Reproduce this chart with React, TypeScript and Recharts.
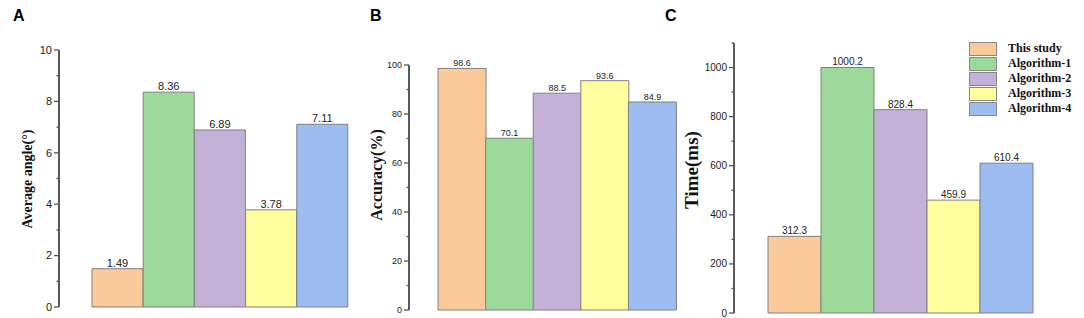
import { BarChart, Bar, XAxis, YAxis, Cell, LabelList } from "recharts";

const methods = ["This study", "Algorithm-1", "Algorithm-2", "Algorithm-3", "Algorithm-4"];
const colors = ["#fbca9a", "#9ed99c", "#c3b1d7", "#fffd9e", "#9dbcf1"];

const angleValues = [1.49, 8.36, 6.89, 3.78, 7.11];
const accuracyValues = [98.6, 70.1, 88.5, 93.6, 84.9];
const timeValues = [312.3, 1000.2, 828.4, 459.9, 610.4];

const angleTicks = [0, 1, 2, 3, 4, 5, 6, 7, 8, 9, 10];
const accuracyTicks = [0, 10, 20, 30, 40, 50, 60, 70, 80, 90, 100];
const timeTicks = [0, 100, 200, 300, 400, 500, 600, 700, 800, 900, 1000, 1100];

const SANS = "Arial, 'Liberation Sans', sans-serif";
const SERIF = "'Times New Roman', 'Liberation Serif', serif";

function axisTick(major: number, fontSize: number) {
  // eslint-disable-next-line @typescript-eslint/no-explicit-any
  return (props: any) => {
    const { x, y, payload } = props;
    const v = payload.value as number;
    const isMajor = Math.abs(v / major - Math.round(v / major)) < 1e-9;
    return (
      <g>
        <line x1={x} x2={x - (isMajor ? 5 : 2.5)} y1={y} y2={y} stroke="#555" strokeWidth={1.3} />
        {isMajor && (
          <text x={x - 7} y={y} dy="0.35em" textAnchor="end" fontSize={fontSize} fill="#1a1a1a" fontFamily={SANS}>
            {v}
          </text>
        )}
      </g>
    );
  };
}

interface PanelProps {
  values: number[];
  ticks: number[];
  major: number;
  left: number;
  width: number;
  axisW: number;
  padLeft: number;
  top: number;
  bottom: number;
  right: number;
  tickFont: number;
  valueFont: number;
}

function Panel(p: PanelProps) {
  const data = methods.map((m, i) => ({ name: m, value: p.values[i] }));
  return (
    <div style={{ position: "absolute", left: p.left, top: 0 }}>
      <BarChart
        width={p.width}
        height={318}
        data={data}
        barCategoryGap={0}
        margin={{ top: p.top, right: p.right, bottom: p.bottom, left: 0 }}
      >
        <XAxis dataKey="name" hide padding={{ left: p.padLeft, right: 0 }} />
        <YAxis
          width={p.axisW}
          domain={[p.ticks[0], p.ticks[p.ticks.length - 1]]}
          ticks={p.ticks}
          interval={0}
          tickSize={0}
          tickMargin={0}
          tickLine={false}
          axisLine={{ stroke: "#5a5a5a", strokeWidth: 2 }}
          tick={axisTick(p.major, p.tickFont)}
        />
        <Bar dataKey="value" stroke="#808080" strokeWidth={1} isAnimationActive={false}>
          {data.map((d, i) => (
            <Cell key={d.name} fill={colors[i]} />
          ))}
          <LabelList
            dataKey="value"
            position="top"
            offset={2}
            fontSize={p.valueFont}
            fill="#222"
            fontFamily={SANS}
          />
        </Bar>
      </BarChart>
    </div>
  );
}

function AxisTitle({ text, cx, cy, size }: { text: string; cx: number; cy: number; size: number }) {
  return (
    <div
      style={{
        position: "absolute",
        left: cx,
        top: cy,
        transform: "translate(-50%, -50%) rotate(-90deg)",
        whiteSpace: "nowrap",
        fontFamily: SERIF,
        fontWeight: "bold",
        fontSize: size,
        color: "#111",
        lineHeight: 1,
      }}
    >
      {text}
    </div>
  );
}

function PanelLetter({ text, x }: { text: string; x: number }) {
  return (
    <div
      style={{
        position: "absolute",
        left: x,
        top: 8,
        fontFamily: SANS,
        fontWeight: "bold",
        fontSize: 16,
        lineHeight: 1,
        color: "#000",
      }}
    >
      {text}
    </div>
  );
}

export default function App() {
  return (
    <div style={{ position: "absolute", left: 0, top: 0, width: 1084, height: 318, background: "#fff", overflow: "hidden" }}>
      <Panel values={angleValues} ticks={angleTicks} major={2} left={0} width={360} axisW={59}
        padLeft={33} top={50} bottom={11} right={12} tickFont={11} valueFont={11} />
      <Panel values={accuracyValues} ticks={accuracyTicks} major={20} left={360} width={320} axisW={49}
        padLeft={29} top={65} bottom={8} right={4} tickFont={9} valueFont={9} />
      <Panel values={timeValues} ticks={timeTicks} major={200} left={680} width={404} axisW={54}
        padLeft={34} top={43} bottom={5} right={51} tickFont={10} valueFont={10} />

      <PanelLetter text="A" x={13} />
      <PanelLetter text="B" x={370} />
      <PanelLetter text="C" x={665} />

      <AxisTitle text="Average angle(°)" cx={28} cy={179} size={14} />
      <AxisTitle text="Accuracy(%)" cx={377} cy={175} size={16} />
      <AxisTitle text="Time(ms)" cx={691} cy={170} size={19} />

      <div style={{ position: "absolute", left: 969, top: 41 }}>
        {methods.map((m, i) => (
          <div key={m} style={{ display: "flex", alignItems: "center", height: 15 }}>
            <div style={{ width: 26, height: 12, background: colors[i], border: "1px solid #888" }} />
            <span style={{ marginLeft: 11, fontFamily: SERIF, fontWeight: "bold", fontSize: 12, color: "#111", whiteSpace: "nowrap" }}>
              {m}
            </span>
          </div>
        ))}
      </div>
    </div>
  );
}
